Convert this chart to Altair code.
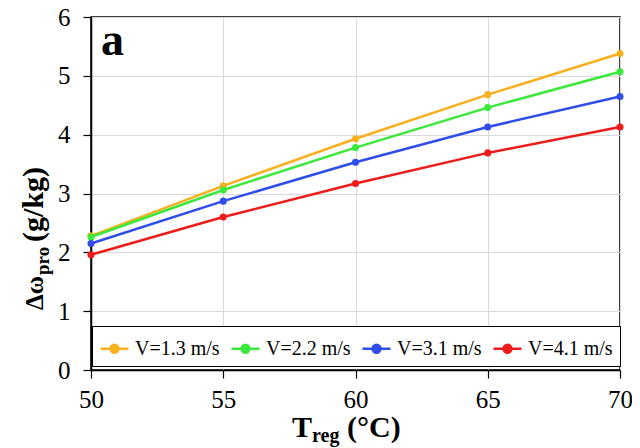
import pandas as pd
import altair as alt

temps = [50, 55, 60, 65, 70]
series = ["V=1.3 m/s", "V=2.2 m/s", "V=3.1 m/s", "V=4.1 m/s"]
v13 = [2.28, 3.13, 3.93, 4.68, 5.38]
v22 = [2.26, 3.06, 3.78, 4.46, 5.07]
v31 = [2.15, 2.87, 3.53, 4.13, 4.65]
v41 = [1.96, 2.60, 3.17, 3.69, 4.13]
colors = ["#F8B020", "#3BE83B", "#2E4DEA", "#EE1B1B"]

rows = []
for name, vals in zip(series, [v13, v22, v31, v41]):
    for t, v in zip(temps, vals):
        rows.append({"T": t, "dw": v, "V": name})
df = pd.DataFrame(rows)

SERIF = "'Liberation Serif', 'Times New Roman', Times, serif"
# legend symbol: short line with a dot in the middle
sym = "M-1,0L1,0M-0.28,0A0.28,0.28,0,1,1,0.28,0A0.28,0.28,0,1,1,-0.28,0Z"

leg = alt.Legend(orient="none", legendX=1, legendY=309,
                 direction="horizontal", columns=4,
                 symbolType=sym, symbolSize=784, symbolStrokeWidth=2.5, symbolOpacity=1,
                 labelFont=SERIF, labelFontSize=20, labelColor="black",
                 labelOffset=5, columnPadding=6,
                 strokeColor="black", fillColor="white")
cscale = alt.Scale(domain=series, range=colors)

x = alt.X("T:Q", scale=alt.Scale(domain=[50, 70], nice=False),
          axis=alt.Axis(values=temps, title=None, labelPadding=9, labelFlush=False))
y = alt.Y("dw:Q", scale=alt.Scale(domain=[0, 6], nice=False),
          axis=alt.Axis(values=[0, 1, 2, 3, 4, 5, 6], title=None, labelPadding=13,
                        labelFlush=False))

lines = alt.Chart(df).mark_line(strokeWidth=2.5).encode(
    x=x, y=y, stroke=alt.Stroke("V:N", scale=cscale, title=None, legend=leg))
points = alt.Chart(df).mark_point(filled=True, size=50, opacity=1, strokeWidth=0).encode(
    x=x, y=y,
    stroke=alt.Stroke("V:N", scale=cscale, title=None, legend=leg),
    fill=alt.Fill("V:N", scale=cscale, title=None, legend=leg))


def label(txt, x, y, size, angle=0):
    return alt.Chart(pd.DataFrame({"t": [txt]})).mark_text(
        font=SERIF, fontSize=size, fontWeight="bold", color="black",
        align="left", baseline="alphabetic", angle=angle,
    ).encode(text="t:N", x=alt.value(x), y=alt.value(y))


texts = [
    label("a", 10, 38, 46),
    label("T", 201, 420, 30),
    label("reg", 221, 425, 20),
    label("(°C)", 256, 420, 30),
    label("Δω", -48, 293, 25, 270),
    label("pro", -42, 258, 19, 270),
    label("(g/kg)", -48, 225, 30, 270),
]

chart = alt.layer(lines, points, *texts).properties(
    width=529, height=353,
    autosize=alt.AutoSizeParams(type="none"),
    padding={"left": 83, "top": 9, "right": 12, "bottom": 78},
).configure_axis(
    labelFont=SERIF, labelFontSize=25, labelColor="black",
    tickColor="black", tickSize=8, tickWidth=1.2,
    domainColor="black", domainWidth=1.5,
    gridColor="#d9d9d9", gridWidth=1,
).configure_legend(
    padding=7
).configure_view(
    stroke="black", strokeWidth=1.5
)

chart.save("out.html", embed_options={"renderer": "svg", "actions": False})
